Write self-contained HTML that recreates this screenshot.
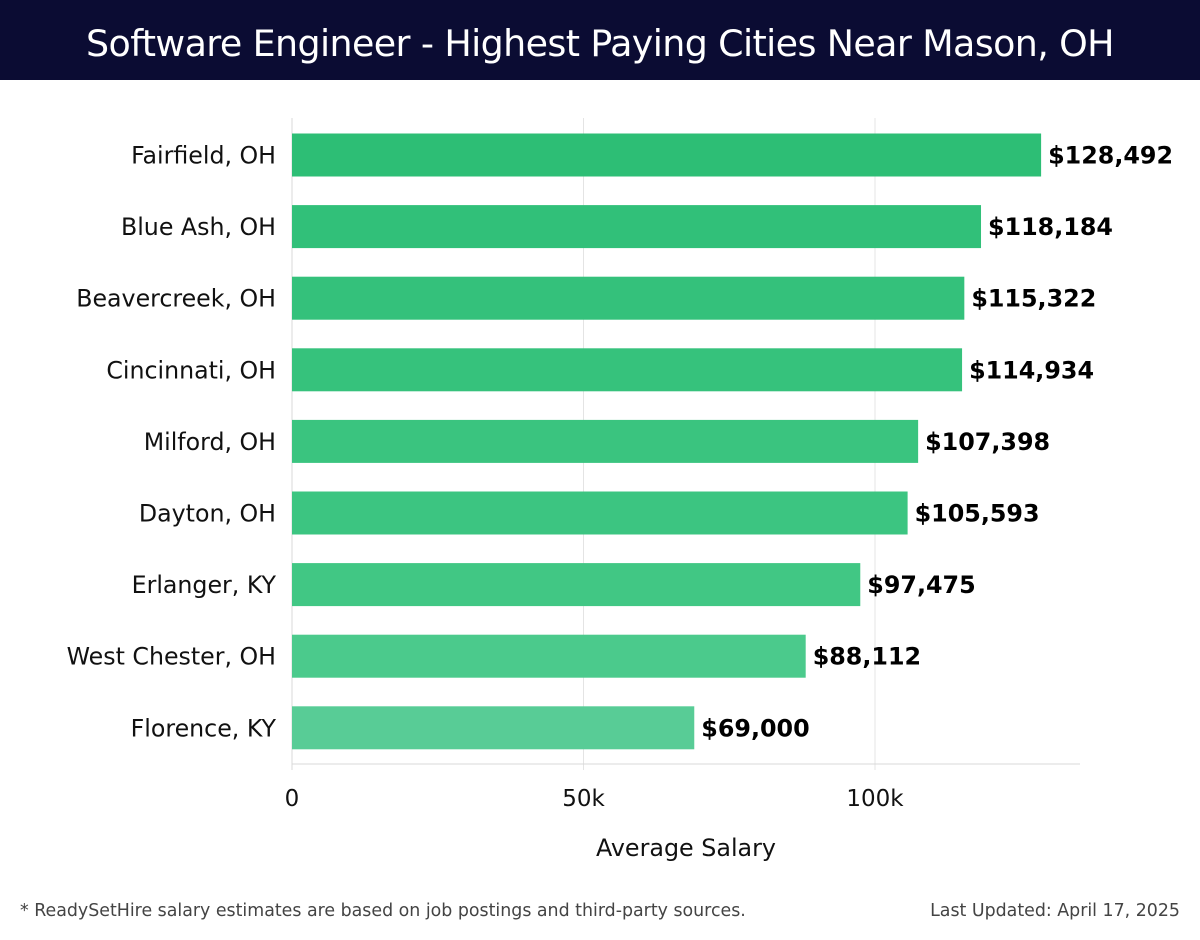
<!DOCTYPE html>
<html><head><meta charset="utf-8"><style>
body{margin:0;width:1200px;height:940px;background:#fff;font-family:"DejaVu Sans","Liberation Sans",sans-serif;overflow:hidden}
#hdr{position:absolute;left:0;top:0;width:1200px;height:80px;background:#0b0c33;color:#fff;font-size:36.4px;text-align:center;line-height:88px;font-family:"DejaVu Sans","Liberation Sans",sans-serif;font-weight:normal;letter-spacing:-0.6px}
.foot{position:absolute;top:901px;font-size:17.4px;color:#444;font-family:"DejaVu Sans","Liberation Sans",sans-serif}
</style></head><body>
<div id="hdr">Software Engineer - Highest Paying Cities Near Mason, OH</div>
<svg id="chart" width="1200" height="940" style="position:absolute;left:0;top:0"></svg>
<div class="foot" style="left:20px">* ReadySetHire salary estimates are based on job postings and third-party sources.</div>
<div class="foot" style="right:20px">Last Updated: April 17, 2025</div>
<script>
const cities=["Fairfield, OH","Blue Ash, OH","Beavercreek, OH","Cincinnati, OH","Milford, OH","Dayton, OH","Erlanger, KY","West Chester, OH","Florence, KY"];
const salaries=[128492,118184,115322,114934,107398,105593,97475,88112,69000];
const tickValues=[0,50000,100000];
const tickLabels=["0","50k","100k"];
const colors=["#2dbe75","#31c079","#34c17b","#36c27c","#3ac47f","#3cc581","#41c784","#4bca8c","#58cc96"];
const NS="http://www.w3.org/2000/svg";
const svg=document.getElementById('chart');
const x0=292,pxPer=583/100000;
const xs=v=>x0+v*pxPer;
const top0=120,step=71.6,bh=43;
const yc=i=>top0+35+i*step;
function mk(t,a){const e=document.createElementNS(NS,t);for(const k in a)e.setAttribute(k,a[k]);svg.appendChild(e);return e;}
tickValues.forEach((v,i)=>{
 const g=mk('line',{x1:xs(v),x2:xs(v),y1:118,y2:770,stroke:'#e4e4e4','stroke-width':1});
 
 
 const t=mk('text',{x:xs(v),y:806,'text-anchor':'middle','font-size':23,fill:'#111'});
 t.textContent=tickLabels[i];
 
 
});
const ax=mk('line',{x1:x0,x2:1080,y1:764,y2:764,stroke:'#d8d8d8'});


const ay=mk('line',{x1:x0,x2:x0,y1:118,y2:770,stroke:'#d8d8d8'});


cities.forEach((c,i)=>{
 const y=yc(i);
 const r=mk('rect',{x:x0,y:y-bh/2,width:xs(salaries[i])-x0,height:bh,fill:colors[i]});
 
 
 const l=mk('text',{x:276,y:y+8.5,'text-anchor':'end','font-size':23.7,fill:'#111'});
 l.textContent=c;
 
 
 const v=mk('text',{x:xs(salaries[i])+7,y:y+8.5,'font-size':23.8,'font-weight':'bold',fill:'#000'});
 v.textContent='$'+salaries[i].toLocaleString('en-US');
 
 
});
const at=mk('text',{x:686,y:856,'text-anchor':'middle','font-size':23.8,fill:'#111'});
at.textContent='Average Salary';


</script>
</body></html>
